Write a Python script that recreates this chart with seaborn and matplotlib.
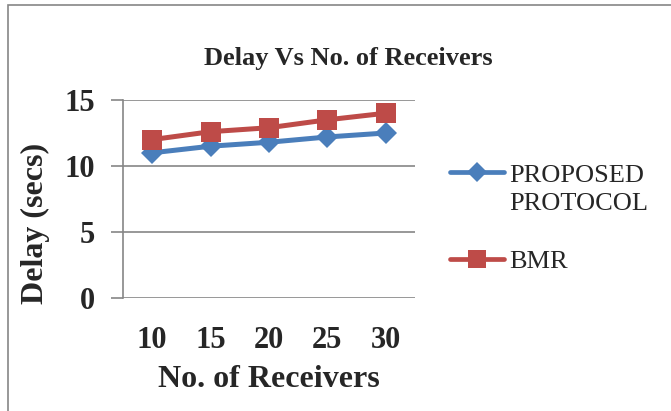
import matplotlib
matplotlib.use("Agg")
import matplotlib.pyplot as plt
from matplotlib.patches import Rectangle
from matplotlib.lines import Line2D
import seaborn as sns
import pandas as pd

# Data
receivers = [10, 15, 20, 25, 30]
proposed_delay = [11.0, 11.5, 11.8, 12.2, 12.5]
bmr_delay = [12.0, 12.6, 12.9, 13.5, 14.0]
series_names = ["PROPOSED PROTOCOL", "BMR"]
y_ticks = [0, 5, 10, 15]

df = pd.DataFrame({
    "receivers": receivers * 2,
    "delay": proposed_delay + bmr_delay,
    "series": [series_names[0]] * len(receivers) + [series_names[1]] * len(receivers),
})

sns.set_style("white")
plt.rcParams["font.family"] = ["Liberation Serif", "DejaVu Serif"]

fig = plt.figure(figsize=(6.71, 4.11), dpi=100)
ax = fig.add_axes([123 / 671, 1 - 298 / 411, (415 - 123) / 671, (298 - 100) / 411])

palette = {series_names[0]: "#4A7EBB", series_names[1]: "#BE4B48"}
markers = {series_names[0]: "D", series_names[1]: "s"}

sns.lineplot(
    data=df, x="receivers", y="delay", hue="series", style="series",
    palette=palette, markers=markers, dashes=False, linewidth=3.6,
    markersize=13, markeredgewidth=0, ax=ax, legend=False,
)
for line in ax.lines:
    line.set_solid_capstyle("round")
    line.set_solid_joinstyle("round")
ax.lines[0].set_markersize(11.5)
ax.lines[1].set_markersize(14)

ax.set_xlim(7.5, 32.5)
ax.set_ylim(0, 15)
ax.set_xticks(receivers)
ax.set_yticks(y_ticks)
ax.tick_params(axis="x", length=0, pad=20, labelsize=22)
ax.tick_params(axis="y", length=9, width=1.2, color="#868686", pad=11, labelsize=22, left=True)
for lbl in ax.get_xticklabels() + ax.get_yticklabels():
    lbl.set_fontweight("bold")

ax.grid(axis="y", color="#868686", linewidth=1.2)
ax.grid(axis="x", visible=False)
for side in ["top", "right", "bottom"]:
    ax.spines[side].set_visible(False)
ax.spines["left"].set_color("#868686")
ax.spines["left"].set_linewidth(1.2)

ax.set_xlabel("No. of Receivers", fontsize=23, fontweight="bold")
ax.xaxis.set_label_coords(0.5, -(379 - 298) / 198)
ax.xaxis.label.set_va("center")
ax.set_ylabel("Delay (secs)", fontsize=23, fontweight="bold")
ax.yaxis.set_label_coords(-(123 - 50) / 292, (298 - 223) / 198)

fig.text(348 / 671, 1 - 58 / 411, "Delay Vs No. of Receivers", fontsize=19,
         fontweight="bold", ha="center", va="center")

# Legend: the long series name wraps onto a second row beneath its handle
blue, red = ax.lines[0], ax.lines[1]
h_blue = Line2D([], [], color=blue.get_color(), marker="D", markersize=10,
                markeredgewidth=0, linewidth=3.4, solid_capstyle="round")
h_red = Line2D([], [], color=red.get_color(), marker="s", markersize=13,
               markeredgewidth=0, linewidth=3.4, solid_capstyle="round")
blank = Line2D([], [], linestyle="none")
ax.legend([h_blue, blank, blank, h_red], ["PROPOSED", "PROTOCOL", " ", "BMR"],
          loc="upper left", bbox_to_anchor=(437 / 671, 1 - 150 / 411),
          bbox_transform=fig.transFigure, frameon=False, fontsize=19,
          handlelength=2.05, handletextpad=0.2, labelspacing=0.2, borderpad=0)

fig.patches.append(Rectangle((8 / 671, -0.1), 2, 1.1 - 5 / 411, transform=fig.transFigure,
                             fill=False, edgecolor="#868686", linewidth=1.2))

fig.savefig("out.png", dpi=100)
